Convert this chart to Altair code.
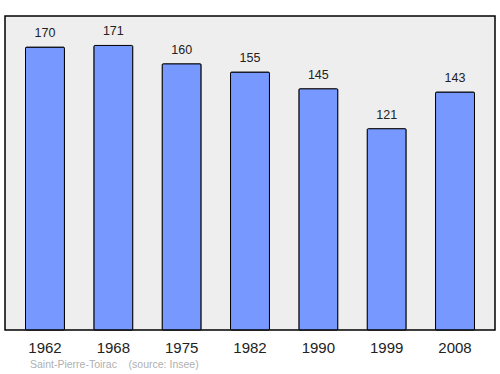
import altair as alt
import pandas as pd

years = ["1962", "1968", "1975", "1982", "1990", "1999", "2008"]
population = [170, 171, 160, 155, 145, 121, 143]
source_text = "Saint-Pierre-Toirac\u00a0\u00a0\u00a0\u00a0(source: Insee)"

df = pd.DataFrame({"year": years, "pop": population})
src = pd.DataFrame({"t": [source_text]})

x = alt.X("year:N", sort=years, title=None,
          scale=alt.Scale(paddingInner=0.43, paddingOuter=0.3),
          axis=alt.Axis(labelAngle=0, ticks=False, domain=False, labelFontSize=15,
                        labelColor="#222222", labelPadding=10, labelFont="Liberation Sans"))
y = alt.Y("pop:Q", scale=alt.Scale(domain=[0, 188.7], nice=False, zero=True), axis=None)

bars = alt.Chart(df).mark_bar(color="#7799ff", stroke="#000000", strokeWidth=1, cornerRadius=1).encode(x=x, y=y)
labels = alt.Chart(df).mark_text(dy=-10, baseline="alphabetic", fontSize=12.5, font="Liberation Sans",
                                 color="#222222").encode(x=x, y=y, text="pop:Q")
note = alt.Chart(src).mark_text(align="left", baseline="alphabetic", fontSize=10.5, font="Liberation Sans",
                                color="#b0b0b0", clip=False).encode(
    x=alt.value(25), y=alt.value(352), text="t:N")

chart = (bars + labels + note).properties(
    width=490, height=314,
    autosize=alt.AutoSizeParams(type="none"),
    padding={"left": 5, "top": 16, "right": 5, "bottom": 44},
    background="#ffffff",
).configure_view(fill="#eeeeee", stroke="#000000", strokeWidth=1.5)

chart.save("out.html", embed_options={"renderer": "svg", "actions": False})
